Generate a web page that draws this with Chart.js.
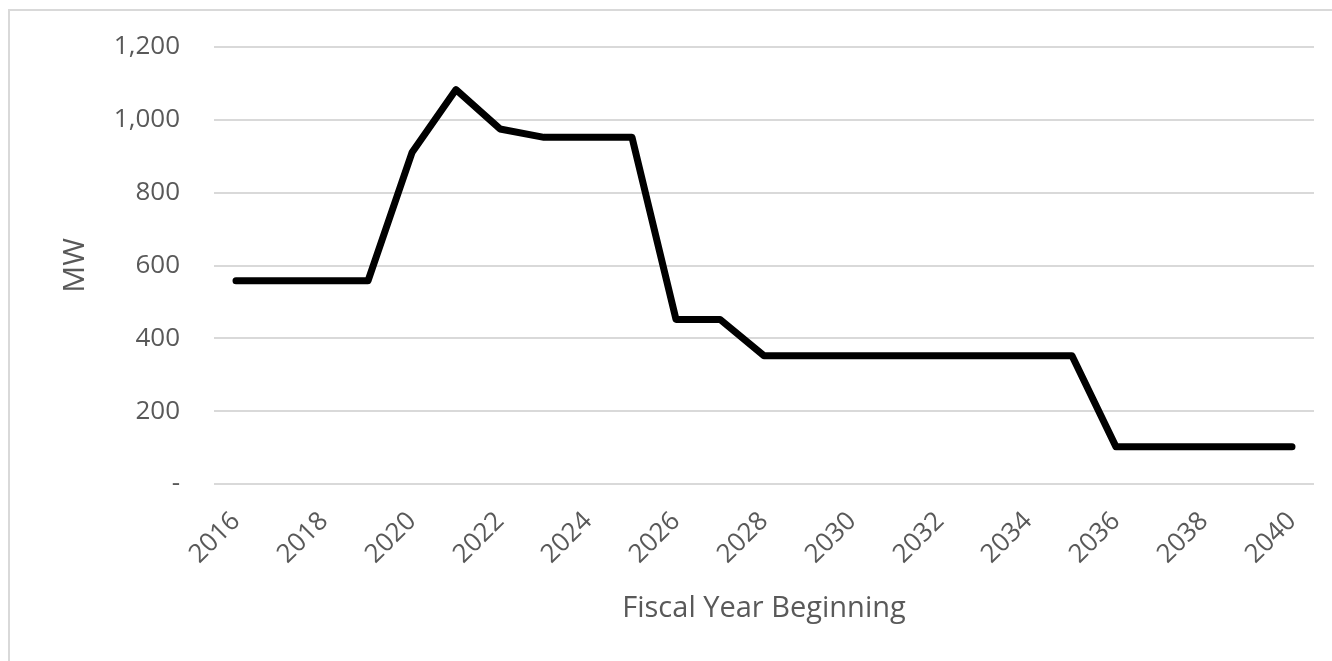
<!DOCTYPE html>
<html>
<head>
<meta charset="utf-8">
<script src="https://cdn.jsdelivr.net/npm/chart.js@4"></script>
<style>
  html, body { margin: 0; padding: 0; background: #fff; overflow: hidden; }
  #wrap { position: relative; width: 1332px; height: 661px; }
  #frame {
    position: absolute; left: 8px; top: 9px; width: 2000px; height: 2000px;
    border: 2px solid #d9d9d9; box-sizing: border-box;
  }
  #mwChart { position: absolute; left: 0; top: 0; }
</style>
</head>
<body>
<div id="wrap">
  <div id="frame"></div>
  <canvas id="mwChart" width="1332" height="661"></canvas>
</div>
<script>
// data
const years = [
  "2016", "2017", "2018", "2019", "2020", "2021", "2022", "2023", "2024",
  "2025", "2026", "2027", "2028", "2029", "2030", "2031", "2032", "2033",
  "2034", "2035", "2036", "2037", "2038", "2039", "2040"
];
const mwValues = [
  558, 558, 558, 558, 910, 1083, 975, 952, 952,
  952, 452, 452, 352, 352, 352, 352, 352, 352,
  352, 352, 102, 102, 102, 102, 102
];
const yTicks = [0, 200, 400, 600, 800, 1000, 1200];

const textColor = "#595959";
const gridColor = "#d9d9d9";
const fontFamily = "'Open Sans', sans-serif";

new Chart(document.getElementById("mwChart"), {
  type: "line",
  data: {
    labels: years,
    datasets: [
      {
        label: "MW",
        data: mwValues,
        borderColor: "#000000",
        backgroundColor: "#000000",
        borderWidth: 7,
        borderJoinStyle: "round",
        borderCapStyle: "round",
        pointRadius: 0,
        tension: 0
      }
    ]
  },
  options: {
    responsive: false,
    animation: false,
    layout: { padding: { top: 47, right: 18, left: 0, bottom: 0 } },
    plugins: {
      legend: { display: false },
      tooltip: { enabled: false }
    },
    scales: {
      x: {
        offset: true,
        grid: { display: false, drawTicks: false },
        border: { display: false },
        ticks: {
          color: textColor,
          font: { family: fontFamily, size: 26 },
          autoSkip: false,
          minRotation: 45,
          maxRotation: 45,
          padding: 22,
          callback: (v, i) => (i % 2 === 0 ? years[i] : "")
        },
        title: {
          display: true,
          text: "Fiscal Year Beginning",
          color: textColor,
          font: { family: fontFamily, size: 29 },
          padding: { top: 0, bottom: 35 }
        },
        afterFit: s => {
          s.height = 177;
          s.paddingLeft = 0;
          s.paddingRight = 0;
        }
      },
      y: {
        min: 0,
        max: 1200,
        grid: { color: gridColor, lineWidth: 2, drawTicks: false },
        border: { display: false },
        afterBuildTicks: s => { s.ticks = yTicks.map(v => ({ value: v })); },
        ticks: {
          color: textColor,
          font: { family: fontFamily, size: 26 },
          padding: 34,
          callback: v => (v === 0 ? "-" : v.toLocaleString("en-US"))
        },
        title: {
          display: true,
          text: "MW",
          color: textColor,
          font: { family: fontFamily, size: 30 },
          padding: { top: 57, bottom: 0 }
        },
        afterFit: s => {
          s.width = 214;
          s.paddingTop = 0;
          s.paddingBottom = 0;
        }
      }
    }
  }
});
</script>
</body>
</html>
